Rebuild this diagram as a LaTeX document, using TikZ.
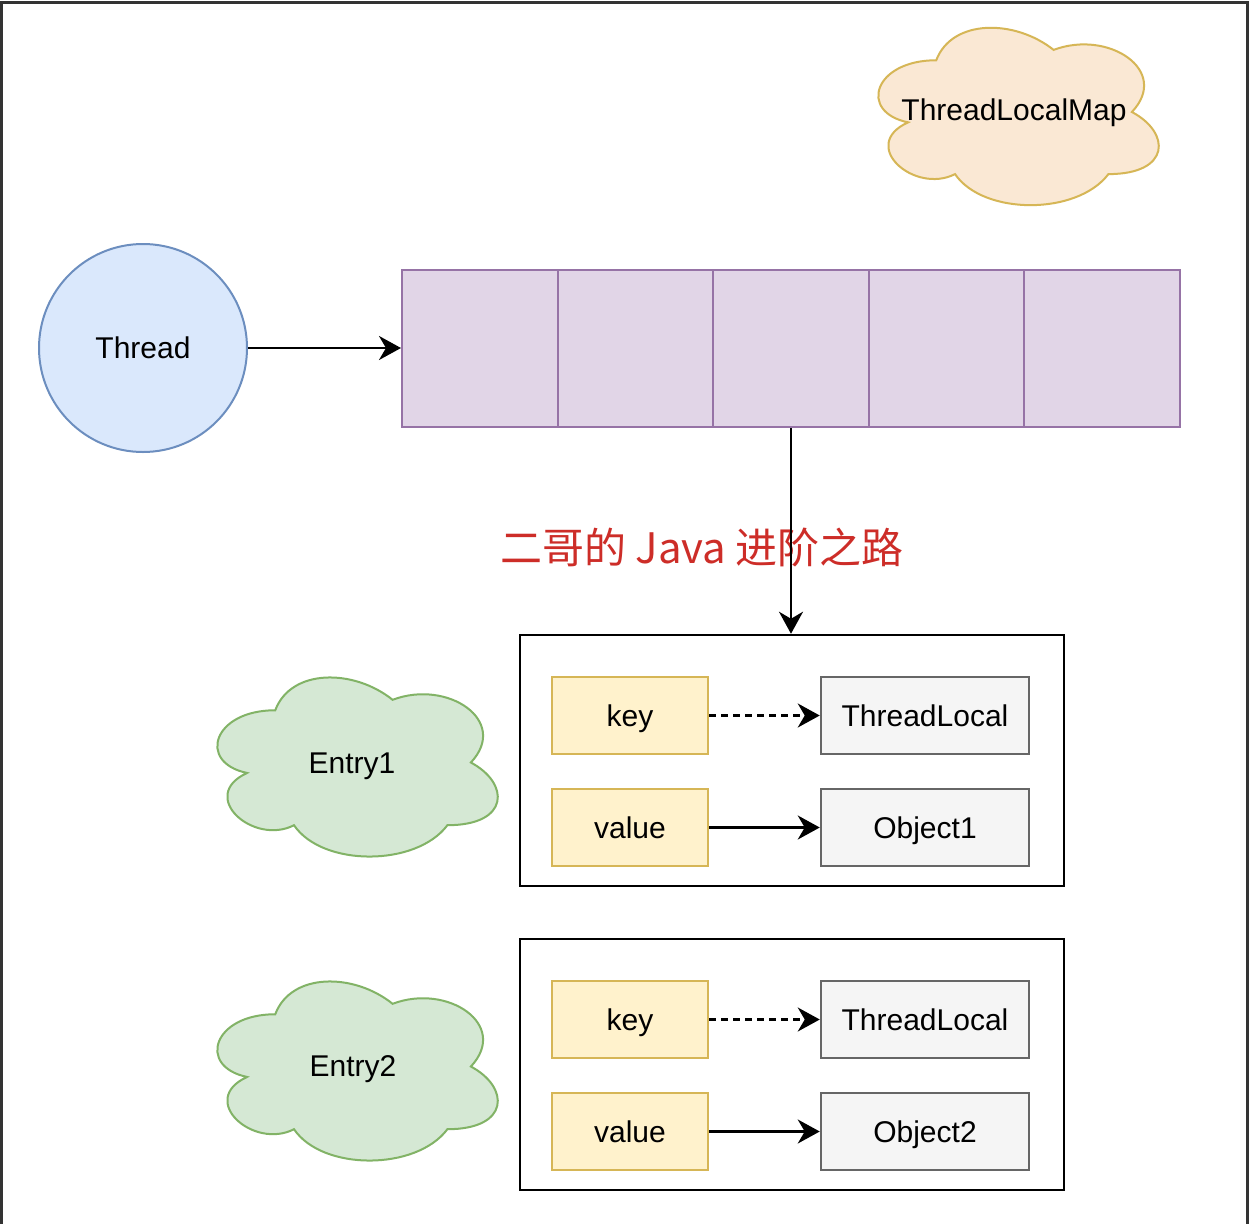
\documentclass[tikz,border=0pt]{standalone}
\usepackage{fontspec}
\setmainfont{Liberation Sans}
\newfontfamily\cjk{Noto Sans CJK SC}
\usetikzlibrary{arrows.meta}
\definecolor{threadfill}{HTML}{DAE8FC}
\definecolor{threadstroke}{HTML}{6C8EBF}
\definecolor{cellfill}{HTML}{E1D5E7}
\definecolor{cellstroke}{HTML}{9673A6}
\definecolor{keyfill}{HTML}{FFF2CC}
\definecolor{keystroke}{HTML}{D6B656}
\definecolor{objfill}{HTML}{F5F5F5}
\definecolor{objstroke}{HTML}{666666}
\definecolor{mapfill}{HTML}{FAE8D4}
\definecolor{mapstroke}{HTML}{D6B656}
\definecolor{entfill}{HTML}{D5E8D4}
\definecolor{entstroke}{HTML}{82B366}
\definecolor{redtext}{RGB}{205,45,40}
\definecolor{bordercol}{HTML}{333333}
\newcommand\drawiocloud[5]{%
\begin{scope}[shift={(#2,#3)},x=#4pt,y=-#5pt]
\path[#1] (0.25,0.25) .. controls (0.05,0.25) and (0,0.5) .. (0.16,0.55)
 .. controls (0,0.66) and (0.18,0.9) .. (0.31,0.8)
 .. controls (0.4,1) and (0.7,1) .. (0.8,0.8)
 .. controls (1,0.8) and (1,0.6) .. (0.875,0.5)
 .. controls (1,0.3) and (0.8,0.1) .. (0.625,0.2)
 .. controls (0.5,0.05) and (0.3,0.05) .. (0.25,0.25) -- cycle;
\end{scope}}
\tikzset{
  lbl/.style={font=\fontsize{30}{36}\selectfont, text=black, text height=21.5pt, text depth=0pt},
  cell/.style={draw=cellstroke, fill=cellfill, line width=2pt, minimum width=155.6pt, minimum height=157pt, inner sep=0pt},
  keybox/.style={draw=keystroke, fill=keyfill, line width=2pt, minimum width=156pt, minimum height=77pt, inner sep=0pt, lbl},
  objbox/.style={draw=objstroke, fill=objfill, line width=2.5pt, minimum width=208pt, minimum height=77pt, inner sep=0pt, lbl},
  entrybox/.style={draw=black, fill=white, line width=2.5pt, minimum width=544pt, minimum height=251pt, inner sep=0pt},
  arr/.style={draw=black, line width=2.5pt, -{Stealth[length=22pt,width=24pt,inset=7pt]}},
  mapcloud/.style={draw=mapstroke, fill=mapfill, line width=2pt},
  entcloud/.style={draw=entstroke, fill=entfill, line width=2pt},
}
\begin{document}
\begin{tikzpicture}[x=1pt,y=-1pt]
\useasboundingbox (0,0) rectangle (1254,1224);
\fill[white] (0,0) rectangle (1254,1224);
\draw[bordercol, line width=3pt] (1.5,1240) -- (1.5,2.5) -- (1247.5,2.5) -- (1247.5,1240);

% ThreadLocalMap cloud
\drawiocloud{mapcloud}{858}{8.5}{313}{207}
\node[lbl] (maplbl) at (1014,110) {ThreadLocalMap};

% Thread
\node[circle, draw=threadstroke, fill=threadfill, line width=2pt, minimum size=208pt, inner sep=0pt, lbl] (thread) at (143,348) {Thread};

% array
\node[cell] (c1) at (479.8,348.5) {};
\node[cell] (c2) at (635.4,348.5) {};
\node[cell] (c3) at (791,348.5) {};
\node[cell] (c4) at (946.6,348.5) {};
\node[cell] (c5) at (1102.2,348.5) {};

\draw[arr] (thread.east) -- (thread.east -| c1.west);

% red label
\node[font=\cjk\fontsize{42}{50}\selectfont, text=redtext] (title) at (702,548) {二哥的 Java 进阶之路};

% Entry1
\node[entrybox] (e1) at (792,760.5) {};
\node[keybox] (k1) at (630,715.5) {key};
\node[objbox] (t1) at (925,715.5) {ThreadLocal};
\node[keybox] (v1) at (630,827.5) {value};
\node[objbox] (o1) at (925,827.5) {Object1};
\draw[arr, dash pattern=on 7pt off 5pt] (k1) -- (t1);
\draw[arr] (v1) -- (o1);
\drawiocloud{entcloud}{197}{658}{313}{209}
\node[lbl] (e1lbl) at (352,763) {Entry1};

\draw[arr] (c3.south) -- (c3.south |- e1.north);

% Entry2
\node[entrybox] (e2) at (792,1064.5) {};
\node[keybox] (k2) at (630,1019.5) {key};
\node[objbox] (t2) at (925,1019.5) {ThreadLocal};
\node[keybox] (v2) at (630,1131.5) {value};
\node[objbox] (o2) at (925,1131.5) {Object2};
\draw[arr, dash pattern=on 7pt off 5pt] (k2) -- (t2);
\draw[arr] (v2) -- (o2);
\drawiocloud{entcloud}{197}{962}{313}{209}
\node[lbl] (e2lbl) at (353,1066) {Entry2};
\end{tikzpicture}
\end{document}
